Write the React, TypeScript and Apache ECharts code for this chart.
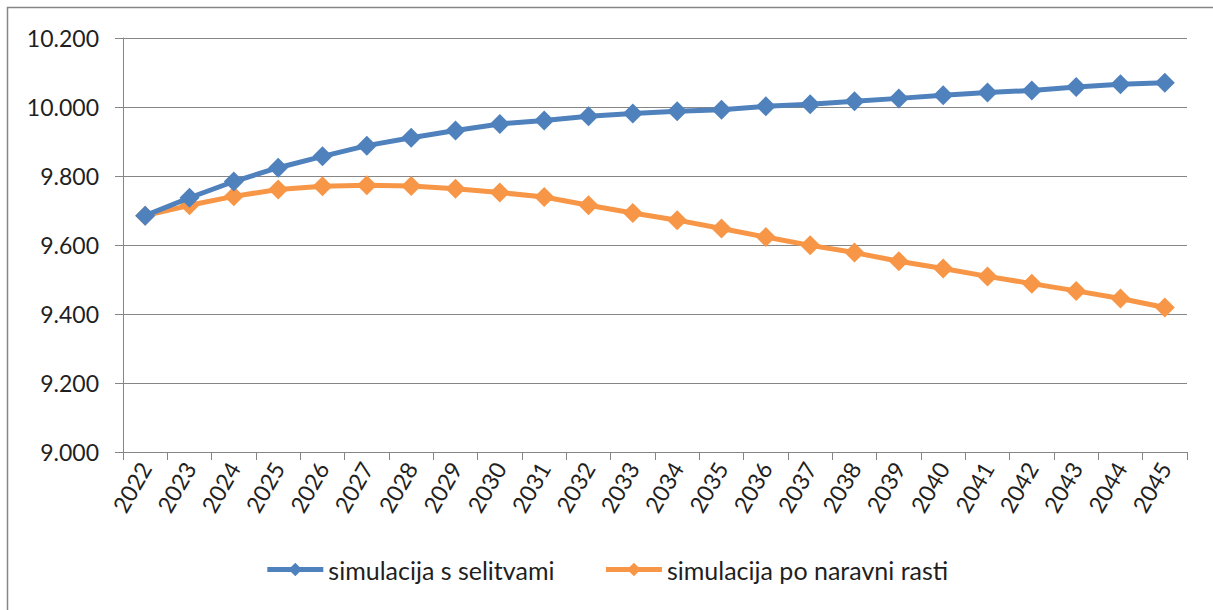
import React, { useEffect, useRef } from "react";
import * as echarts from "echarts";

const years = ["2022","2023","2024","2025","2026","2027","2028","2029","2030","2031","2032","2033","2034","2035","2036","2037","2038","2039","2040","2041","2042","2043","2044","2045"];
const withMigration = [9685,9737,9784,9824,9857,9888,9911,9932,9951,9961,9973,9981,9988,9992,10002,10008,10017,10025,10034,10042,10048,10058,10066,10070];
const naturalGrowth = [9685,9715,9741,9761,9770,9773,9771,9763,9752,9739,9715,9693,9672,9648,9623,9599,9578,9553,9532,9509,9488,9467,9445,9419];
const seriesNames = ["simulacija s selitvami", "simulacija po naravni rasti"];

const FONT = "Lato";
const TXT = "#1f1f1f";

export default function App() {
  const ref = useRef<HTMLDivElement>(null);
  useEffect(() => {
    if (!ref.current) return;
    const chart = echarts.init(ref.current, undefined, { renderer: "svg" });
    const fmt = (v: number) => {
      const s = String(Math.round(v));
      return s.replace(/\B(?=(\d{3})+(?!\d))/g, ".");
    };
    chart.setOption({
      animation: false,
      textStyle: { fontFamily: FONT },
      graphic: [
        {
          type: "rect",
          shape: { x: 7.5, y: 7.5, width: 1230, height: 620 },
          style: { fill: "none", stroke: "#868686", lineWidth: 1.5 },
          silent: true,
        },
      ],
      grid: { left: 123, top: 38, right: 26, bottom: 158, containLabel: false },
      legend: {
        bottom: 23,
        left: "center",
        itemWidth: 56,
        itemHeight: 17,
        itemGap: 49,
        lineStyle: { width: 5 },
        textStyle: { fontSize: 25, color: TXT, fontFamily: FONT },
        data: seriesNames,
      },
      xAxis: {
        type: "category",
        data: years,
        boundaryGap: true,
        axisLine: { lineStyle: { color: "#868686", width: 1 } },
        axisTick: { show: true, length: 8, alignWithLabel: false, lineStyle: { color: "#868686" } },
        axisLabel: { rotate: 60, fontSize: 23, color: TXT, margin: 12, interval: 0, fontFamily: FONT },
        splitLine: { show: false },
      },
      yAxis: {
        type: "value",
        min: 9000,
        max: 10200,
        interval: 200,
        axisLine: { show: true, lineStyle: { color: "#868686", width: 1 } },
        axisTick: { show: true, length: 8, lineStyle: { color: "#868686" } },
        axisLabel: { fontSize: 23, color: TXT, margin: 24, formatter: fmt, fontFamily: FONT },
        splitLine: { show: true, lineStyle: { color: "#868686", width: 1 } },
      },
      series: [
        {
          name: seriesNames[0],
          type: "line",
          data: withMigration,
          symbol: "diamond",
          symbolSize: 20,
          lineStyle: { color: "#4F81BD", width: 5 },
          itemStyle: { color: "#4F81BD" },
          z: 3,
        },
        {
          name: seriesNames[1],
          type: "line",
          data: naturalGrowth,
          symbol: "diamond",
          symbolSize: 20,
          lineStyle: { color: "#F79646", width: 5 },
          itemStyle: { color: "#F79646" },
          z: 2,
        },
      ],
    });
    return () => chart.dispose();
  }, []);
  return <div ref={ref} style={{ position: "absolute", left: 0, top: 0, width: 1213, height: 610 }} />;
}
